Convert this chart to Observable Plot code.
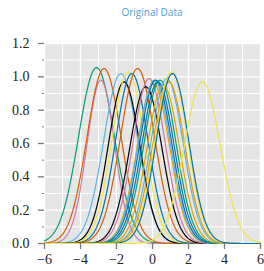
<!DOCTYPE html>
<html><head><meta charset="utf-8">
<script src="https://cdn.jsdelivr.net/npm/d3@7"></script>
<script src="https://cdn.jsdelivr.net/npm/@observablehq/plot@0.6"></script>
<style>
body{margin:0;background:#fff;width:264px;height:271px;overflow:hidden}
#title{height:22px;line-height:24px;text-align:center;font-family:"Open Sans",sans-serif;font-size:10px;color:#4c9fd2;padding-left:40px;box-sizing:border-box}
svg{display:block}
</style></head><body>
<div id="title">Original Data</div>
<div id="chart"></div>
<script>
const title = "Original Data";
const xTicks = [-6, -4, -2, 0, 2, 4, 6];
const xMinor = [-5, -3, -1, 1, 3, 5];
const yTicks = [0, 0.2, 0.4, 0.6, 0.8, 1.0, 1.2];
const yMinor = [0.1, 0.3, 0.5, 0.7, 0.9, 1.1];
// Gaussian curves: center, peak height, width, colour
const centers = [-3.11, -2.87, -2.69, -1.76, -1.58, -1.35, -1.15, -0.83, -0.37, -0.19, 0.05, 0.1, 0.18, 0.3, 0.42, 0.6, 0.8, 0.9, 1.05, 1.11, 2.77];
const peaks   = [1.055, 0.98, 1.05, 1.02, 0.97, 1.03, 1.02, 1.05, 0.94, 0.99, 0.96, 0.98, 0.98, 0.97, 0.98, 0.95, 0.99, 0.97, 1.03, 1.02, 0.97];
const widths  = [1.0, 0.77, 0.95, 0.95, 0.88, 0.9, 0.9, 0.95, 0.9, 0.9, 0.9, 0.9, 0.9, 0.9, 0.9, 0.9, 0.9, 0.9, 0.9, 0.9, 1.0];
const colors  = ["#009E73", "#CC79A7", "#D55E00", "#56B4E9", "#000000", "#F0E442", "#0072B2", "#D55E00", "#000000", "#CC79A7", "#E69F00", "#56B4E9", "#0072B2", "#0072B2", "#009E73", "#E69F00", "#56B4E9", "#E69F00", "#F0E442", "#0072B2", "#F0E442"];

const grid = d3.range(-6, 6.0001, 0.05);
const rows = [];
centers.forEach((c, i) => {
  for (const x of grid) rows.push({id: i, x, y: peaks[i] * Math.exp(-((x - c) ** 2) / (2 * widths[i] ** 2)), c: colors[i]});
});
const minus = d => (d < 0 ? "\u2212" + Math.abs(d) : String(d));
const serif = "'Liberation Serif', serif";
const chart = Plot.plot({
  width: 264, height: 249,
  marginLeft: 44, marginRight: 4, marginTop: 21, marginBottom: 28,
  x: {domain: [-6, 6]},
  y: {domain: [0, 1.2]},
  color: {type: "identity"},
  marks: [
    Plot.frame({fill: "#e5e5e5", stroke: null}),
    Plot.gridX(xMinor, {stroke: "#fff", strokeOpacity: 1, strokeWidth: 1}),
    Plot.gridY(yMinor, {stroke: "#fff", strokeOpacity: 1, strokeWidth: 1}),
    Plot.gridX(xTicks, {stroke: "#fff", strokeOpacity: 1, strokeWidth: 1.4}),
    Plot.gridY(yTicks, {stroke: "#fff", strokeOpacity: 1, strokeWidth: 1.4}),
    Plot.line(rows, {x: "x", y: "y", z: "id", stroke: "c", strokeWidth: 1.2}),
    Plot.axisX(xTicks, {tickSize: 6, tickPadding: 5, tickFormat: minus, stroke: "#777", strokeWidth: 1.3, label: null, fontFamily: serif, fontSize: 14, fill: "#222"}),
    Plot.axisY(yTicks, {tickSize: 6, tickPadding: 9, tickFormat: d3.format(".1f"), stroke: "#777", strokeWidth: 1.3, label: null, fontFamily: serif, fontSize: 14, fill: "#222"}),
    Plot.axisY(yMinor, {tickSize: 2, text: null, stroke: "#777", label: null})
  ]
});
chart.setAttribute("font-family", serif);
document.getElementById("chart").appendChild(chart);
</script></body></html>
